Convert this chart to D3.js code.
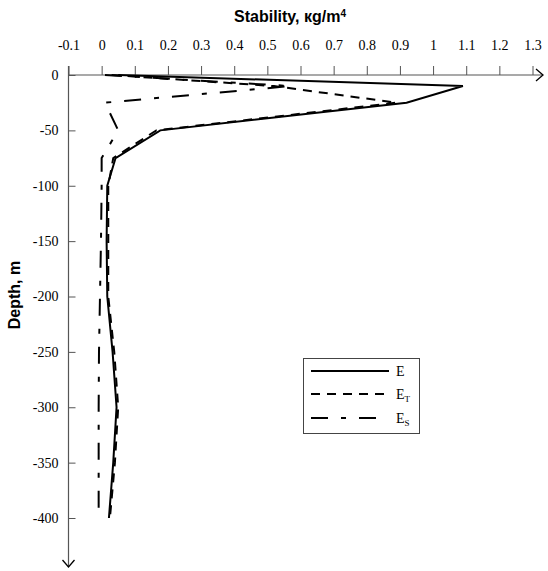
<!DOCTYPE html>
<html>
<head>
<meta charset="utf-8">
<script src="https://cdn.jsdelivr.net/npm/d3@7"></script>
<style>
html,body{margin:0;padding:0;background:#fff;}
.serif{font-family:"Liberation Serif","Times New Roman",serif;}
</style>
</head>
<body>
<svg id="chart" width="548" height="571"></svg>
<script>
// Data (depth in m, stability in kg/m^4)
const depths = [0, -10, -25, -50, -75, -100, -150, -200, -250, -300, -350, -400];
const E      = [0.05, 1.09, 0.92, 0.177, 0.042, 0.017, 0.015, 0.017, 0.033, 0.045, 0.035, 0.022];
const ET     = [0.03, 0.52, 0.89, 0.165, 0.035, 0.02, 0.02, 0.02, 0.038, 0.05, 0.04, 0.025];
const ES     = [0.01, 0.57, 0.01, 0.05, 0.0, 0.0, -0.002, -0.005, -0.008, -0.009, -0.009, -0.009];
const xTicks = [-0.1, 0, 0.1, 0.2, 0.3, 0.4, 0.5, 0.6, 0.7, 0.8, 0.9, 1, 1.1, 1.2, 1.3];
const yTicks = [0, -50, -100, -150, -200, -250, -300, -350, -400];

const svg = d3.select("#chart");
const x = d3.scaleLinear().domain([-0.1, 1.3]).range([68.5, 532.5]);
const y = d3.scaleLinear().domain([0, -400]).range([75, 518]);
const axisColor = "#555";
const serif = '"Liberation Serif","Times New Roman",serif';
const sans = '"Liberation Sans",Arial,sans-serif';

// X axis (top)
const xAxis = d3.axisTop(x).tickValues(xTicks).tickSize(9).tickPadding(16)
  .tickFormat(d => String(+d.toFixed(1)));
const gx = svg.append("g").attr("transform", `translate(0,${y(0)})`).call(xAxis);
gx.attr("font-family", null).attr("font-size", null);
gx.select(".domain").remove();
gx.selectAll(".tick line").attr("stroke", axisColor);
gx.selectAll(".tick text").style("font-family", serif).style("font-size", "14px").attr("fill", "#000");
svg.append("line").attr("x1", x(-0.1)).attr("x2", 543).attr("y1", y(0)).attr("y2", y(0))
  .attr("stroke", axisColor).attr("stroke-width", 1.2);
svg.append("path").attr("d", `M536,69 L543,${y(0)} L536,81`).attr("fill", "none")
  .attr("stroke", "#000").attr("stroke-width", 1.3);

// Y axis (left)
const yAxis = d3.axisLeft(y).tickValues(yTicks).tickSize(-7).tickPadding(10)
  .tickFormat(d => String(d));
const gy = svg.append("g").attr("transform", `translate(${x(-0.1)},0)`).call(yAxis);
gy.attr("font-family", null).attr("font-size", null);
gy.select(".domain").remove();
gy.selectAll(".tick line").attr("stroke", axisColor);
gy.selectAll(".tick text").style("font-family", serif).style("font-size", "14px").attr("fill", "#000");
svg.append("line").attr("x1", x(-0.1)).attr("x2", x(-0.1)).attr("y1", 66).attr("y2", 567)
  .attr("stroke", axisColor).attr("stroke-width", 1.2);
svg.append("path").attr("d", `M${x(-0.1)-6},560 L${x(-0.1)},567 L${x(-0.1)+6},560`).attr("fill", "none")
  .attr("stroke", "#000").attr("stroke-width", 1.3);

// Titles
const title = svg.append("text").attr("x", 290).attr("y", 22).attr("text-anchor", "middle")
  .style("font-family", sans).attr("font-weight", "bold").style("font-size", "16px").attr("fill", "#000");
title.append("tspan").text("Stability, кg/m");
title.append("tspan").style("font-size", "10px").attr("dy", -5).text("4");

svg.append("text").attr("transform", "translate(20,295) rotate(-90)").attr("text-anchor", "middle")
  .style("font-family", sans).attr("font-weight", "bold").style("font-size", "16px").attr("fill", "#000")
  .text("Depth, m");

// Lines
const series = [
  {name: "E", vals: E, dash: null},
  {name: "ET", vals: ET, dash: "9,7"},
  {name: "ES", vals: ES, dash: "17,13,5,13"}
];
const line = d3.line().x(d => x(d[0])).y(d => y(d[1]));
series.forEach(s => {
  svg.append("path").datum(s.vals.map((v, i) => [v, depths[i]]))
    .attr("d", line).attr("fill", "none").attr("stroke", "#000").attr("stroke-width", 2)
    .attr("stroke-dasharray", s.dash);
});

// Legend
const lg = svg.append("g");
lg.append("rect").attr("x", 303.5).attr("y", 358.5).attr("width", 116).attr("height", 75)
  .attr("fill", "#fff").attr("stroke", "#444").attr("stroke-width", 1);
const legY = [371, 394, 418];
const subs = ["", "T", "S"];
series.forEach((s, i) => {
  lg.append("line").attr("x1", 311).attr("x2", 389).attr("y1", legY[i]).attr("y2", legY[i])
    .attr("stroke", "#000").attr("stroke-width", 2).attr("stroke-dasharray", s.dash);
  const t = lg.append("text").attr("x", 396).attr("y", legY[i] + 5)
    .style("font-family", serif).style("font-size", "14px").attr("fill", "#000");
  t.append("tspan").text("E");
  if (subs[i]) t.append("tspan").style("font-size", "9px").attr("dy", 3).text(subs[i]);
});
</script>
</body>
</html>
